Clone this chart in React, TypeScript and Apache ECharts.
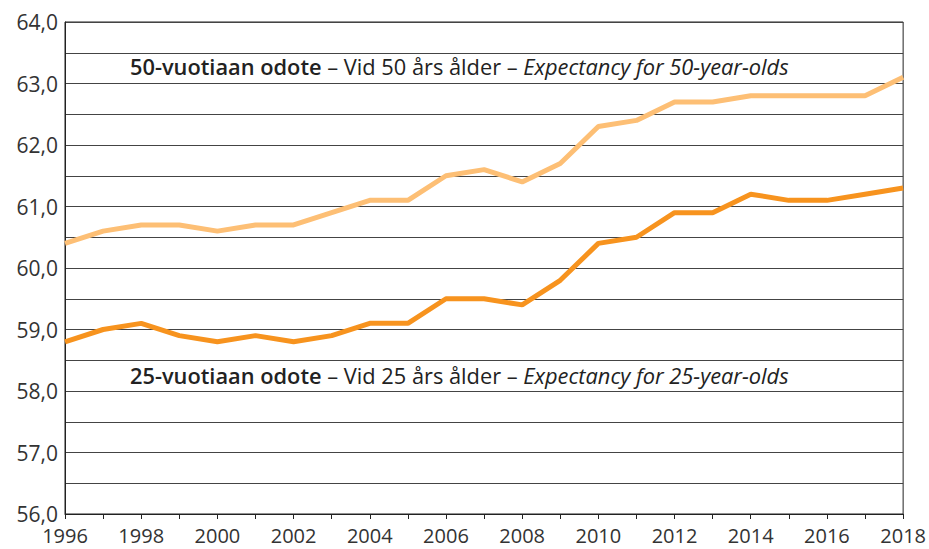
import React, { useEffect, useRef } from "react";
import * as echarts from "echarts";

const years = [1996, 1997, 1998, 1999, 2000, 2001, 2002, 2003, 2004, 2005, 2006, 2007, 2008, 2009, 2010, 2011, 2012, 2013, 2014, 2015, 2016, 2017, 2018];
const age50 = [60.4, 60.6, 60.7, 60.7, 60.6, 60.7, 60.7, 60.9, 61.1, 61.1, 61.5, 61.6, 61.4, 61.7, 62.3, 62.4, 62.7, 62.7, 62.8, 62.8, 62.8, 62.8, 63.1];
const age25 = [58.8, 59.0, 59.1, 58.9, 58.8, 58.9, 58.8, 58.9, 59.1, 59.1, 59.5, 59.5, 59.4, 59.8, 60.4, 60.5, 60.9, 60.9, 61.2, 61.1, 61.1, 61.2, 61.3];
const label50 = ["50-vuotiaan odote", " – Vid 50 års ålder – ", "Expectancy for 50-year-olds"];
const label25 = ["25-vuotiaan odote", " – Vid 25 års ålder – ", "Expectancy for 25-year-olds"];

const FONT = "'Open Sans', sans-serif";

export default function App() {
  const ref = useRef<HTMLDivElement>(null);
  useEffect(() => {
    if (!ref.current) return;
    const chart = echarts.init(ref.current, undefined, { renderer: "svg" });
    const rich = {
      b: { fontFamily: FONT, fontSize: 21.8, fontWeight: 600, color: "#222" },
      n: { fontFamily: FONT, fontSize: 21.8, color: "#222" },
      i: { fontFamily: FONT, fontSize: 21.8, fontStyle: "italic", color: "#222" },
    };
    const mk = (parts: string[], y: number) => ({
      type: "text",
      left: 130,
      top: y,
      z: 10,
      style: {
        text: `{b|${parts[0]}}{n|${parts[1]}}{i|${parts[2]}}`,
        rich,
        fill: "#222",
      },
    });
    chart.setOption({
      animation: false,
      grid: { left: 65, right: 24, top: 22, bottom: 35, show: true, borderColor: "#222", borderWidth: 1 },
      xAxis: {
        type: "value",
        min: 1996,
        max: 2018,
        interval: 1,
        axisLine: { show: true, lineStyle: { color: "#222", width: 1 } },
        axisTick: { show: true, length: 5, lineStyle: { color: "#222" } },
        splitLine: { show: false },
        axisLabel: {
          formatter: (v: number) => (v % 2 === 0 ? String(v) : ""),
          color: "#333",
          fontFamily: FONT,
          fontSize: 20,
          lineHeight: 20,
          margin: 11,
          showMinLabel: true,
          showMaxLabel: true,
        },
      },
      yAxis: {
        type: "value",
        min: 56,
        max: 64,
        interval: 0.5,
        axisLine: { show: true, lineStyle: { color: "#222", width: 1 } },
        axisTick: { show: false },
        splitLine: { show: true, lineStyle: { color: "#444", width: 1 } },
        axisLabel: {
          formatter: (v: number) => (Math.abs(v - Math.round(v)) < 1e-6 ? v.toFixed(1).replace(".", ",") : ""),
          color: "#333",
          fontFamily: FONT,
          fontSize: 21,
          lineHeight: 18,
          margin: 7,
        },
      },
      series: [
        {
          type: "line",
          data: years.map((y, i) => [y, age50[i]]),
          showSymbol: false,
          lineStyle: { color: "#FDBF75", width: 5 },
          itemStyle: { color: "#FDBF75" },
        },
        {
          type: "line",
          data: years.map((y, i) => [y, age25[i]]),
          showSymbol: false,
          lineStyle: { color: "#F7931E", width: 5 },
          itemStyle: { color: "#F7931E" },
        },
      ],
      graphic: [mk(label50, 55), mk(label25, 364)],
    });
    return () => chart.dispose();
  }, []);
  return <div ref={ref} style={{ width: 929, height: 549, position: "fixed", left: 0, top: 0, background: "#fff" }} />;
}
